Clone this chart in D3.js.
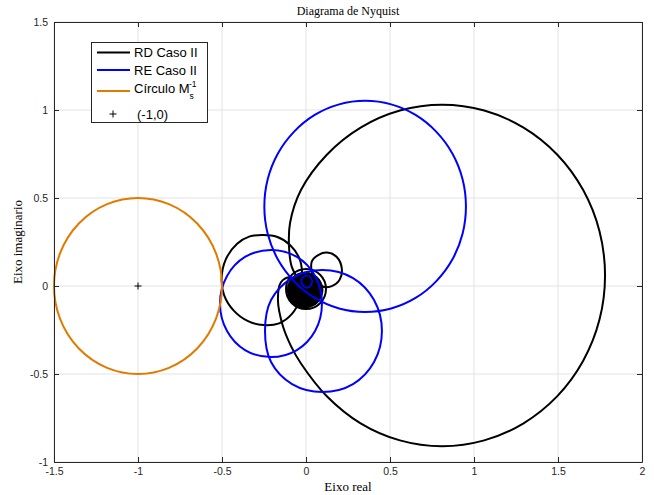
<!DOCTYPE html>
<html><head><meta charset="utf-8">
<script src="https://cdn.jsdelivr.net/npm/d3@7"></script>
<style>body{margin:0;background:#fff}svg{display:block}</style>
</head><body>
<svg id="c" width="654" height="495"></svg>
<script>
// ---- data ----
const xTicks = [-1.5, -1, -0.5, 0, 0.5, 1, 1.5, 2];
const yTicks = [-1, -0.5, 0, 0.5, 1, 1.5];
const xTickLabels = ["-1.5", "-1", "-0.5", "0", "0.5", "1", "1.5", "2"];
const yTickLabels = ["-1", "-0.5", "0", "0.5", "1", "1.5"];

// RD Caso II (black)
const rdBigLoop = [[-0.040,0.030],[-0.085,0.110],[-0.101,0.222],[-0.095,0.358],[-0.030,0.545],[0.124,0.746],[0.325,0.900],[0.559,0.997],[0.810,1.030],[1.061,0.997],[1.295,0.900],[1.496,0.746],[1.650,0.545],[1.747,0.311],[1.780,0.060],[1.747,-0.191],[1.650,-0.425],[1.496,-0.626],[1.295,-0.780],[1.061,-0.877],[0.810,-0.910],[0.559,-0.877],[0.325,-0.780],[0.124,-0.626],[-0.030,-0.440],[-0.090,-0.340],[-0.140,-0.220],[-0.167,-0.080],[-0.150,0.020],[-0.100,0.050],[-0.050,0.030]];
const rdMidLoop = [[-0.254,0.290],[-0.174,0.280],[-0.095,0.233],[-0.036,0.148],[-0.022,0.034],[-0.036,-0.075],[-0.085,-0.160],[-0.160,-0.212],[-0.254,-0.222],[-0.345,-0.200],[-0.430,-0.140],[-0.488,-0.050],[-0.502,0.045],[-0.478,0.150],[-0.410,0.240],[-0.335,0.282]];
const rdSmallLoop = [[0.034,0.138],[0.075,0.177],[0.125,0.190],[0.183,0.165],[0.213,0.100],[0.200,0.035],[0.150,-0.002],[0.090,0.000],[0.045,0.050]];
const rdRing = [[0.119,-0.017],[0.084,0.064],[0.000,0.097],[-0.084,0.064],[-0.119,-0.017],[-0.084,-0.098],[0.000,-0.131],[0.084,-0.098]];
const rdCore = [[0.101,-0.023],[0.070,0.049],[-0.006,0.079],[-0.082,0.049],[-0.113,-0.023],[-0.082,-0.095],[-0.006,-0.125],[0.070,-0.095]];

// RE Caso II (blue)
const reBigLoop = [[0.952,0.452],[0.932,0.607],[0.872,0.752],[0.776,0.876],[0.652,0.972],[0.507,1.032],[0.352,1.052],[0.197,1.032],[0.052,0.972],[-0.072,0.876],[-0.168,0.752],[-0.228,0.607],[-0.248,0.452],[-0.228,0.297],[-0.168,0.152],[-0.072,0.028],[0.052,-0.068],[0.197,-0.128],[0.352,-0.148],[0.507,-0.128],[0.652,-0.068],[0.776,0.028],[0.872,0.152],[0.932,0.297]];
const reLeftLoop = [[-0.208,0.205],[-0.054,0.165],[0.054,0.057],[0.095,-0.099],[0.054,-0.256],[-0.054,-0.364],[-0.208,-0.404],[-0.363,-0.364],[-0.470,-0.256],[-0.512,-0.099],[-0.470,0.057],[-0.363,0.165]];
const reLowLoop = [[0.098,0.091],[0.280,0.045],[0.405,-0.080],[0.452,-0.256],[0.405,-0.432],[0.280,-0.557],[0.098,-0.602],[-0.083,-0.557],[-0.208,-0.432],[-0.244,-0.256],[-0.208,-0.080],[-0.083,0.045]];
const reSmallLoop = [[0.003,0.060],[0.030,0.045],[0.035,0.015],[0.010,-0.010],[-0.020,0.005],[-0.025,0.040]];

// Ms circle (orange) and critical point
const msCenter = [-1, 0];
const msRadius = 0.5;
const criticalPoint = [-1, 0];

const legendLabels = ["RD Caso II", "RE Caso II", "Círculo M", "(-1,0)"];
const seriesColors = ["#000000", "#0000ff", "#e07b00"];

// ---- drawing ----
const svg = d3.select("#c");
const L = 54, R = 642, T = 22, B = 462;
const x = d3.scaleLinear().domain([-1.5, 2]).range([L, R]);
const y = d3.scaleLinear().domain([-1, 1.5]).range([B, T]);
const axisCol = "#262626";

svg.append("rect").attr("x", 0).attr("y", 0).attr("width", 654).attr("height", 495).attr("fill", "#fff");

// grid
const g = svg.append("g");
g.selectAll(".gx").data(xTicks).join("line")
  .attr("x1", d => x(d)).attr("x2", d => x(d)).attr("y1", T).attr("y2", B)
  .attr("stroke", "#e3e3e3").attr("stroke-width", 1);
g.selectAll(".gy").data(yTicks).join("line")
  .attr("y1", d => y(d)).attr("y2", d => y(d)).attr("x1", L).attr("x2", R)
  .attr("stroke", "#e3e3e3").attr("stroke-width", 1);

const closedLine = d3.line().x(d => x(d[0])).y(d => y(d[1])).curve(d3.curveCatmullRomClosed.alpha(0.5));
const openLine = d3.line().x(d => x(d[0])).y(d => y(d[1])).curve(d3.curveCatmullRom.alpha(0.5));
const plot = svg.append("g");

function loop(data, color, w, gen) {
  plot.append("path").attr("d", (gen || closedLine)(data)).attr("fill", "none")
    .attr("stroke", color).attr("stroke-width", w).attr("stroke-linejoin", "round");
}
// black
loop(rdBigLoop, seriesColors[0], 2, openLine);
loop(rdMidLoop, seriesColors[0], 2);
loop(rdSmallLoop, seriesColors[0], 2);
loop(rdRing, seriesColors[0], 2);
plot.append("path").attr("d", closedLine(rdCore)).attr("fill", "#000").attr("stroke", "#000").attr("stroke-width", 1);
// blue
loop(reBigLoop, seriesColors[1], 2);
loop(reLeftLoop, seriesColors[1], 2);
loop(reLowLoop, seriesColors[1], 2);
loop(reSmallLoop, seriesColors[1], 1.6);
// orange
plot.append("ellipse")
  .attr("cx", x(msCenter[0])).attr("cy", y(msCenter[1]))
  .attr("rx", x(msCenter[0] + msRadius) - x(msCenter[0]))
  .attr("ry", y(msCenter[1] - msRadius) - y(msCenter[1]))
  .attr("fill", "none").attr("stroke", seriesColors[2]).attr("stroke-width", 2);
// + marker
const px = x(criticalPoint[0]), py = y(criticalPoint[1]);
plot.append("path").attr("d", `M${px-3.5},${py}H${px+3.5}M${px},${py-3.5}V${py+3.5}`)
  .attr("stroke", "#000").attr("stroke-width", 1);

// axes
function styleAxis(sel) {
  sel.selectAll("path.domain").attr("stroke", axisCol).attr("stroke-width", 1);
  sel.selectAll(".tick line").attr("stroke", axisCol).attr("stroke-width", 1);
  sel.selectAll(".tick text").attr("fill", axisCol).attr("font-family", "'Liberation Sans', Arial, sans-serif").attr("font-size", 10.5);
}
svg.append("g").attr("transform", `translate(0,${B})`)
  .call(d3.axisBottom(x).tickValues(xTicks).tickFormat((d, i) => xTickLabels[i]).tickSizeInner(-5).tickSizeOuter(0).tickPadding(6))
  .call(styleAxis);
svg.append("g").attr("transform", `translate(${L},0)`)
  .call(d3.axisLeft(y).tickValues(yTicks).tickFormat((d, i) => yTickLabels[i]).tickSizeInner(-5).tickSizeOuter(0).tickPadding(6))
  .call(styleAxis);
svg.append("g").attr("transform", `translate(0,${T})`)
  .call(d3.axisTop(x).tickValues(xTicks).tickFormat("").tickSizeInner(-5).tickSizeOuter(0))
  .call(styleAxis);
svg.append("g").attr("transform", `translate(${R},0)`)
  .call(d3.axisRight(y).tickValues(yTicks).tickFormat("").tickSizeInner(-5).tickSizeOuter(0))
  .call(styleAxis);

// title & labels
const serif = "'Liberation Serif', 'Times New Roman', serif";
svg.append("text").attr("x", (L + R) / 2).attr("y", 15).attr("text-anchor", "middle")
  .attr("font-family", serif).attr("font-size", 12).attr("fill", "#000").text("Diagrama de Nyquist");
svg.append("text").attr("x", (L + R) / 2).attr("y", 491).attr("text-anchor", "middle")
  .attr("font-family", serif).attr("font-size", 13).attr("fill", "#000").text("Eixo real");
svg.append("text").attr("transform", `translate(22,${(T + B) / 2}) rotate(-90)`).attr("text-anchor", "middle")
  .attr("font-family", serif).attr("font-size", 13).attr("fill", "#000").text("Eixo imaginario");

// legend
const sans = "'Liberation Sans', Arial, sans-serif";
const lg = svg.append("g");
lg.append("rect").attr("x", 91.5).attr("y", 42.5).attr("width", 116).attr("height", 80)
  .attr("fill", "#fff").attr("stroke", axisCol).attr("stroke-width", 1);
const rowY = [52.5, 70, 91, 114];
for (let i = 0; i < 3; i++) {
  lg.append("line").attr("x1", 97).attr("x2", 130).attr("y1", rowY[i]).attr("y2", rowY[i])
    .attr("stroke", seriesColors[i]).attr("stroke-width", 2);
}
lg.append("text").attr("x", 134).attr("y", rowY[0] + 4.5).attr("font-family", sans).attr("font-size", 13).text(legendLabels[0]);
lg.append("text").attr("x", 134).attr("y", rowY[1] + 4.5).attr("font-family", sans).attr("font-size", 13).text(legendLabels[1]);
lg.append("text").attr("x", 134).attr("y", rowY[2] + 2).attr("font-family", sans).attr("font-size", 13).text(legendLabels[2]);
lg.append("text").attr("x", 189).attr("y", rowY[2] - 4).attr("font-family", sans).attr("font-size", 8.5).text("-1");
lg.append("text").attr("x", 189.5).attr("y", rowY[2] + 8).attr("font-family", sans).attr("font-size", 8.5).text("s");
lg.append("path").attr("d", `M${113-3.5},${rowY[3]}H${113+3.5}M113,${rowY[3]-3.5}V${rowY[3]+3.5}`)
  .attr("stroke", "#000").attr("stroke-width", 1);
lg.append("text").attr("x", 137).attr("y", rowY[3] + 4.5).attr("font-family", sans).attr("font-size", 13).text(legendLabels[3]);
</script>
</body></html>
